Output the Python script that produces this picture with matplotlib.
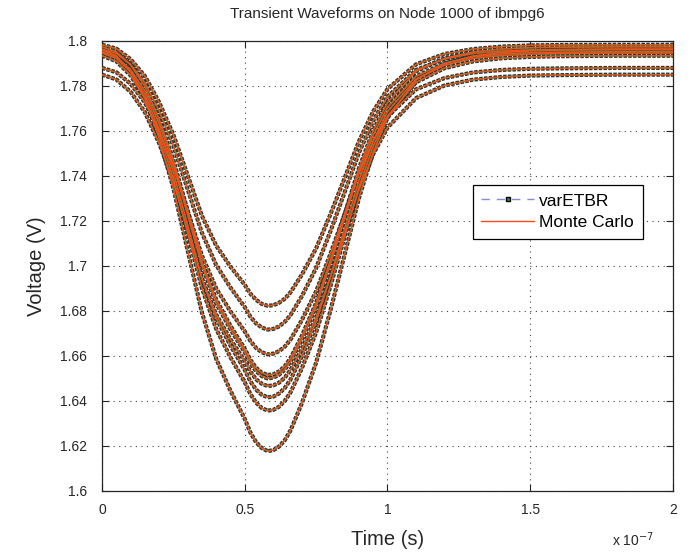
import numpy as np
import matplotlib
matplotlib.use("Agg")
import matplotlib.pyplot as plt
from matplotlib.lines import Line2D

plt.rcParams["font.family"] = ["Liberation Sans", "DejaVu Sans"]

# time samples, in units of 1e-7 s
t = [0, 0.05, 0.1, 0.15, 0.2, 0.25, 0.3, 0.35, 0.4, 0.45, 0.5, 0.52, 0.54, 0.56,
     0.58, 0.6, 0.62, 0.64, 0.66, 0.7, 0.75, 0.8, 0.85, 0.9, 0.95, 1.0, 1.1, 1.2,
     1.3, 1.4, 1.5, 1.6, 1.8, 2.0]

v1 = [1.7982, 1.7965, 1.7918, 1.7843, 1.7727, 1.7582, 1.7402, 1.7222, 1.7089, 1.6996,
      1.6915, 1.6875, 1.6848, 1.6830, 1.6822, 1.6824, 1.6835, 1.6853, 1.6881, 1.6960,
      1.7077, 1.7228, 1.7390, 1.7553, 1.7686, 1.7785, 1.7895, 1.7941, 1.7963, 1.7974,
      1.7979, 1.7981, 1.7982, 1.7982]
v2 = [1.7963, 1.7944, 1.7894, 1.7813, 1.7689, 1.7533, 1.7340, 1.7146, 1.7003, 1.6903,
      1.6816, 1.6773, 1.6743, 1.6725, 1.6716, 1.6719, 1.6730, 1.6750, 1.6780, 1.6864,
      1.6990, 1.7152, 1.7327, 1.7502, 1.7645, 1.7751, 1.7870, 1.7919, 1.7943, 1.7954,
      1.7959, 1.7961, 1.7963, 1.7963]
v3 = [1.7879, 1.7860, 1.7809, 1.7726, 1.7599, 1.7440, 1.7243, 1.7045, 1.6899, 1.6797,
      1.6708, 1.6665, 1.6634, 1.6615, 1.6606, 1.6609, 1.6620, 1.6640, 1.6671, 1.6758,
      1.6886, 1.7052, 1.7230, 1.7408, 1.7554, 1.7663, 1.7784, 1.7834, 1.7859, 1.7870,
      1.7875, 1.7877, 1.7879, 1.7879]
v4 = [1.7973, 1.7951, 1.7893, 1.7798, 1.7652, 1.7470, 1.7244, 1.7017, 1.6850, 1.6733,
      1.6631, 1.6581, 1.6546, 1.6524, 1.6514, 1.6517, 1.6530, 1.6553, 1.6588, 1.6688,
      1.6835, 1.7025, 1.7229, 1.7433, 1.7601, 1.7725, 1.7864, 1.7922, 1.7950, 1.7963,
      1.7969, 1.7971, 1.7973, 1.7973]
v5 = [1.7951, 1.7929, 1.7871, 1.7777, 1.7632, 1.7450, 1.7225, 1.7000, 1.6833, 1.6717,
      1.6615, 1.6566, 1.6531, 1.6509, 1.6499, 1.6502, 1.6515, 1.6538, 1.6573, 1.6672,
      1.6818, 1.7007, 1.7211, 1.7414, 1.7581, 1.7704, 1.7842, 1.7900, 1.7928, 1.7941,
      1.7947, 1.7949, 1.7951, 1.7951]
v6 = [1.7849, 1.7828, 1.7773, 1.7683, 1.7545, 1.7372, 1.7157, 1.6943, 1.6783, 1.6673,
      1.6576, 1.6529, 1.6495, 1.6475, 1.6465, 1.6468, 1.6480, 1.6502, 1.6536, 1.6630,
      1.6770, 1.6949, 1.7143, 1.7337, 1.7496, 1.7614, 1.7745, 1.7801, 1.7827, 1.7839,
      1.7845, 1.7847, 1.7849, 1.7849]
v7 = [1.7945, 1.7922, 1.7861, 1.7761, 1.7608, 1.7417, 1.7180, 1.6943, 1.6767, 1.6645,
      1.6537, 1.6485, 1.6449, 1.6426, 1.6415, 1.6418, 1.6432, 1.6456, 1.6493, 1.6597,
      1.6752, 1.6951, 1.7165, 1.7379, 1.7555, 1.7685, 1.7830, 1.7891, 1.7921, 1.7934,
      1.7940, 1.7943, 1.7945, 1.7945]
v8 = [1.7933, 1.7909, 1.7846, 1.7744, 1.7586, 1.7389, 1.7145, 1.6900, 1.6719, 1.6593,
      1.6482, 1.6429, 1.6391, 1.6367, 1.6356, 1.6359, 1.6373, 1.6399, 1.6436, 1.6544,
      1.6703, 1.6908, 1.7129, 1.7350, 1.7531, 1.7665, 1.7815, 1.7878, 1.7908, 1.7922,
      1.7928, 1.7931, 1.7933, 1.7933]
v9 = [1.7960, 1.7933, 1.7862, 1.7746, 1.7568, 1.7345, 1.7068, 1.6792, 1.6586, 1.6444,
      1.6319, 1.6258, 1.6215, 1.6189, 1.6176, 1.6180, 1.6196, 1.6224, 1.6267, 1.6388,
      1.6569, 1.6800, 1.7050, 1.7300, 1.7505, 1.7657, 1.7826, 1.7898, 1.7932, 1.7948,
      1.7955, 1.7958, 1.7960, 1.7960]

waves = [v1, v2, v3, v4, v5, v6, v7, v8, v9]

x_ticks = [0, 0.5, 1, 1.5, 2]
y_ticks = [1.6, 1.62, 1.64, 1.66, 1.68, 1.7, 1.72, 1.74, 1.76, 1.78, 1.8]

fig = plt.figure(figsize=(6.97, 5.53), dpi=100)
ax = fig.add_axes([0.1463, 0.1127, 0.8193, 0.8137])

# varETBR: dense square markers look like a dark dashed band
for v in waves:
    ax.plot(t, v, color="#333333", lw=3.0, dashes=(0.85, 0.3),
            solid_capstyle="butt", dash_capstyle="butt", zorder=2)
    ax.plot(t, v, color="#1f9a3c", lw=1.1, zorder=3)
# Monte Carlo reference on top
for v in waves:
    ax.plot(t, v, color="#ff4a1a", lw=0.9, zorder=4)

ax.set_xlim(0, 2)
ax.set_ylim(1.6, 1.8)
ax.set_xticks(x_ticks)
ax.set_yticks(y_ticks)
ax.set_xticklabels(["%g" % x for x in x_ticks])
ax.set_yticklabels(["%g" % y for y in y_ticks])
ax.tick_params(direction="in", top=True, right=True, length=5, width=0.8,
               labelsize=10, colors="#262626")
ax.tick_params(axis="x", pad=9)
ax.tick_params(axis="y", pad=11)
for s in ax.spines.values():
    s.set_color("#262626")
    s.set_linewidth(0.9)
ax.grid(True, linestyle=(0, (1, 4)), color="#444444", lw=0.8)

ax.set_title("Transient Waveforms on Node 1000 of ibmpg6", fontsize=11,
             pad=16, color="#262626")
ax.set_xlabel("Time (s)", fontsize=14.5, labelpad=9, color="#262626")
ax.set_ylabel("Voltage (V)", fontsize=14.5, labelpad=10, color="#262626")
fig.text(0.878, 0.013, "x 10$^{-7}$", fontsize=10, color="#262626")

h1 = Line2D([0, 1, 2], [0, 0, 0], color="#8a8ad0", lw=1, linestyle=(0, (6, 5)),
            marker="s", markersize=3, markerfacecolor="#1f9a3c",
            markeredgecolor="black", markevery=[1])
h2 = Line2D([], [], color="#ff4a1a", lw=1)
leg = ax.legend([h1, h2], ["varETBR", "Monte Carlo"], loc="center",
                bbox_to_anchor=(0.798, 0.620), fontsize=12.5, handlelength=3.05,
                fancybox=False, framealpha=1, edgecolor="black",
                borderpad=0.5, labelspacing=0.36, handletextpad=0.3,
                borderaxespad=0)
leg.get_frame().set_linewidth(0.9)

fig.savefig("out.png", dpi=100)
